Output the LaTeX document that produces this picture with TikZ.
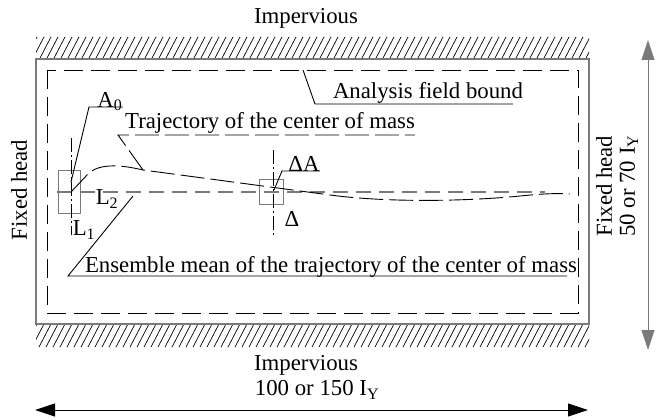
\documentclass[tikz,border=0pt]{standalone}
\usepackage{fontspec}
\setmainfont{Liberation Serif}
\usetikzlibrary{arrows.meta}
\definecolor{ink}{HTML}{000000}
\definecolor{rim}{HTML}{7A7A7A}

\begin{document}
\begin{tikzpicture}[x=1pt,y=-1pt,font=\fontsize{22.8}{23}\selectfont,text=ink,line width=0.9pt,
  >={Triangle[length=20pt,width=13pt]},
  lbl/.style={inner sep=0pt},
  field/.style={dash pattern=on 19pt off 8pt},
  track/.style={dash pattern=on 24pt off 6pt},
  axisline/.style={rim,line width=1.6pt,dash pattern=on 15pt off 8pt},
  centerline/.style={dash pattern=on 14pt off 3pt on 2pt off 3pt}]
  \useasboundingbox (0,0) rectangle (661,420);
  % impervious walls
  \foreach \y in {37,324}{
    \begin{scope}
      \clip (36,\y) rectangle (589,\y+23);
      \foreach \x in {18,25,...,600}
        \draw[line width=0.7pt] (\x,\y+23) -- ++(12,-23);
    \end{scope}}
  \draw[rim,line width=1.2pt] (36,59) rectangle (589,324);
  \draw[field] (47,70) rectangle (578,313);
  \node[lbl] (topwall) at (306,18) {Impervious};
  \node[lbl] (botwall) at (306,365) {Impervious};
  \node[lbl] (len) at (317,390) {100 or 150 I\textsubscript{Y}};
  \node[lbl,rotate=90] (lefthead) at (19,190) {Fixed head};
  \node[lbl,rotate=90,align=center] (righthead) at (617,186) {Fixed head\\50 or 70 I\textsubscript{Y}};
  \coordinate (lenL) at (35,410);
  \coordinate (lenR) at (588,410);
  \draw[<->] (lenL) -- (lenR);
  \coordinate (hgtT) at (648,40);
  \coordinate (hgtB) at (648,350);
  \draw[<->,rim] (hgtT) -- (hgtB);
  % mean line, boxes and trajectory
  \draw[axisline] (57,192) -- (545,192);
  \draw[rim] (58,170) rectangle (80,213);
  \draw[rim] (259,179) rectangle (283,204);
  \draw[centerline] (71,138) -- (71,235);
  \draw[centerline] (273,150) -- (273,237);
  \draw[track] (71,192) -- (88,174) .. controls (98,164) and (118,164) .. (143,170) -- (330,195)
    .. controls (390,203) and (470,201) .. (520,196) .. controls (540,194) and (555,193) .. (570,194);
  % labels
  \node[lbl,anchor=base west] (a0) at (97,107) {A\textsubscript{0}};
  \draw (71,182) -- (89,107) -- (a0.base east);
  \node[lbl,anchor=base] (trj) at (270,128) {Trajectory of the center of mass};
  \draw[track] (143,170) -- (118,135) -- (415,135);
  \node[lbl,anchor=base] (afb) at (428,99) {Analysis field bound};
  \draw (303,70) -- (315,104) -- (513,104);
  \node[lbl,anchor=base west] (dA) at (288,171) {ΔA};
  \draw (274,190) -- (282,171) -- (dA.base east);
  \node[lbl] (dlt) at (292,219) {Δ};
  \node[lbl] (l2) at (107,199) {L\textsubscript{2}};
  \node[lbl] (l1) at (84,230) {L\textsubscript{1}};
  \node[lbl,anchor=base] (ens) at (331,272) {Ensemble mean of the trajectory of the center of mass};
  \draw (133,196) -- (68,276) -- (567,276);
\end{tikzpicture}
\end{document}
